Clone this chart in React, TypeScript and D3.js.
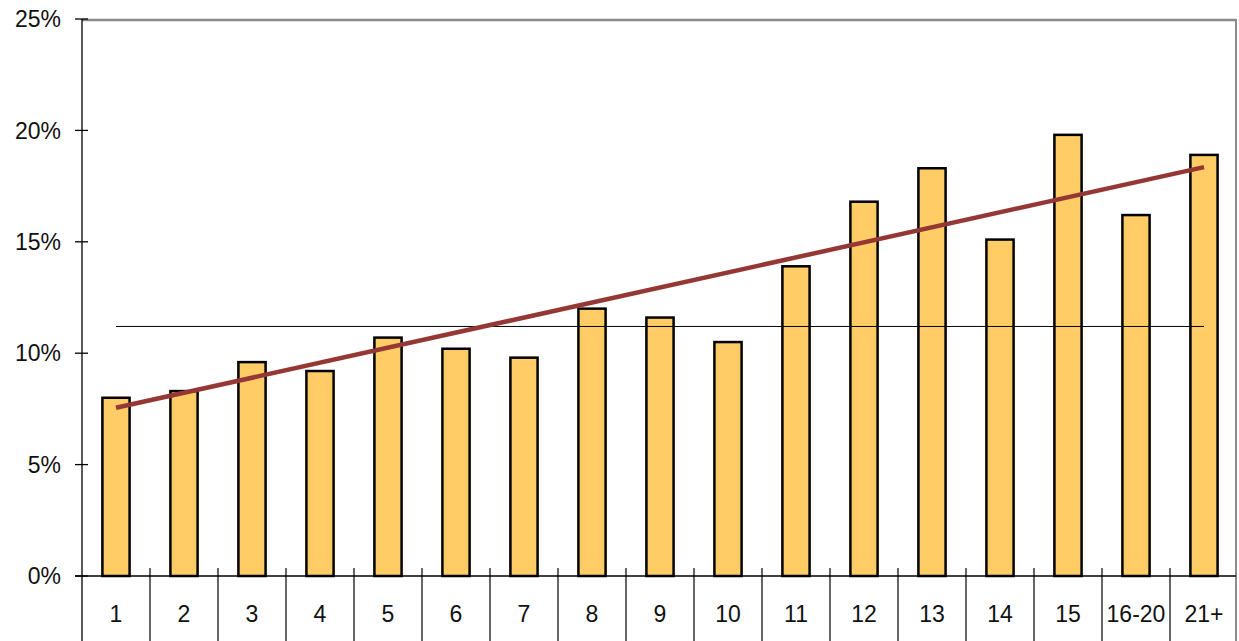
import React from 'react';
import {scaleLinear, scaleBand, line} from 'd3';

const categories = ['1', '2', '3', '4', '5', '6', '7', '8', '9', '10', '11', '12', '13', '14', '15', '16-20', '21+'];
const values = [8.0, 8.3, 9.6, 9.2, 10.7, 10.2, 9.8, 12.0, 11.6, 10.5, 13.9, 16.8, 18.3, 15.1, 19.8, 16.2, 18.9];
const yTicks = [0, 5, 10, 15, 20, 25];
const averageValue = 11.2;
// trend line ends
const trendEnds = [7.55, 18.35];

const W = 1239;
const H = 641;
const margin = {t: 19, r: 3, b: 65, l: 82};

const fontStyle = {
	fontFamily: '"Liberation Sans", Arial, sans-serif',
	fontSize: '23px',
	fill: '#111'
};

const x = scaleBand<string>()
	.domain(categories)
	.range([margin.l, W - 1])
	.paddingInner(0)
	.paddingOuter(0);

const y = scaleLinear()
	.domain([0, 25])
	.range([H - margin.b, margin.t]);

const center = (c: string) => (x(c) as number) + x.bandwidth() / 2;

const trendLine = line<number>()
	.x((d, i) => center(categories[i === 0 ? 0 : categories.length - 1]))
	.y(d => y(d));

export default function App(){

	const barW = x.bandwidth() * 0.4;
	const y0 = y(0);
	const right = W - 3;

	return (
		<svg width={W} height={H} style={{position: 'absolute', left: 0, top: 0, background: '#fff'}}>
			{/* plot frame */}
			<line x1={margin.l} x2={right} y1={margin.t + 1} y2={margin.t + 1} stroke='#8a8a8a' strokeWidth={2.5} />
			<line x1={right} x2={right} y1={margin.t} y2={H} stroke='#8a8a8a' strokeWidth={2} />

			{/* y axis */}
			<line x1={margin.l} x2={margin.l} y1={margin.t} y2={H} stroke='#000' strokeWidth={1.3} />
			{yTicks.map(t =>
				<g key={t}>
					<line x1={margin.l - 7} x2={margin.l + 6} y1={y(t)} y2={y(t)} stroke='#000' strokeWidth={1.3} />
					<text x={61} y={y(t)} dy='0.36em' textAnchor='end' style={fontStyle}>{t}%</text>
				</g>
			)}

			{/* bars */}
			{categories.map((c, i) =>
				<rect
					key={c}
					x={center(c) - barW / 2}
					y={y(values[i])}
					width={barW}
					height={y0 - y(values[i])}
					fill='#FFCC66'
					stroke='#000'
					strokeWidth={2.5}
				/>
			)}

			{/* category axis */}
			<line x1={margin.l - 7} x2={right} y1={y0} y2={y0} stroke='#000' strokeWidth={1.5} />
			{categories.slice(1).map(c =>
				<line key={c} x1={x(c) as number} x2={x(c) as number} y1={y0 - 8} y2={H} stroke='#000' strokeWidth={1.2} />
			)}
			{categories.map(c =>
				<text key={c} x={center(c)} y={614} dy='0.36em' textAnchor='middle' style={fontStyle}>{c}</text>
			)}

			{/* average line */}
			<line
				x1={center(categories[0])}
				x2={center(categories[categories.length - 1])}
				y1={y(averageValue)}
				y2={y(averageValue)}
				stroke='#000'
				strokeWidth={1}
			/>

			{/* trend */}
			<path d={trendLine(trendEnds) as string} fill='none' stroke='#953735' strokeWidth={4.5} strokeLinecap='butt' />
		</svg>
	);
}
